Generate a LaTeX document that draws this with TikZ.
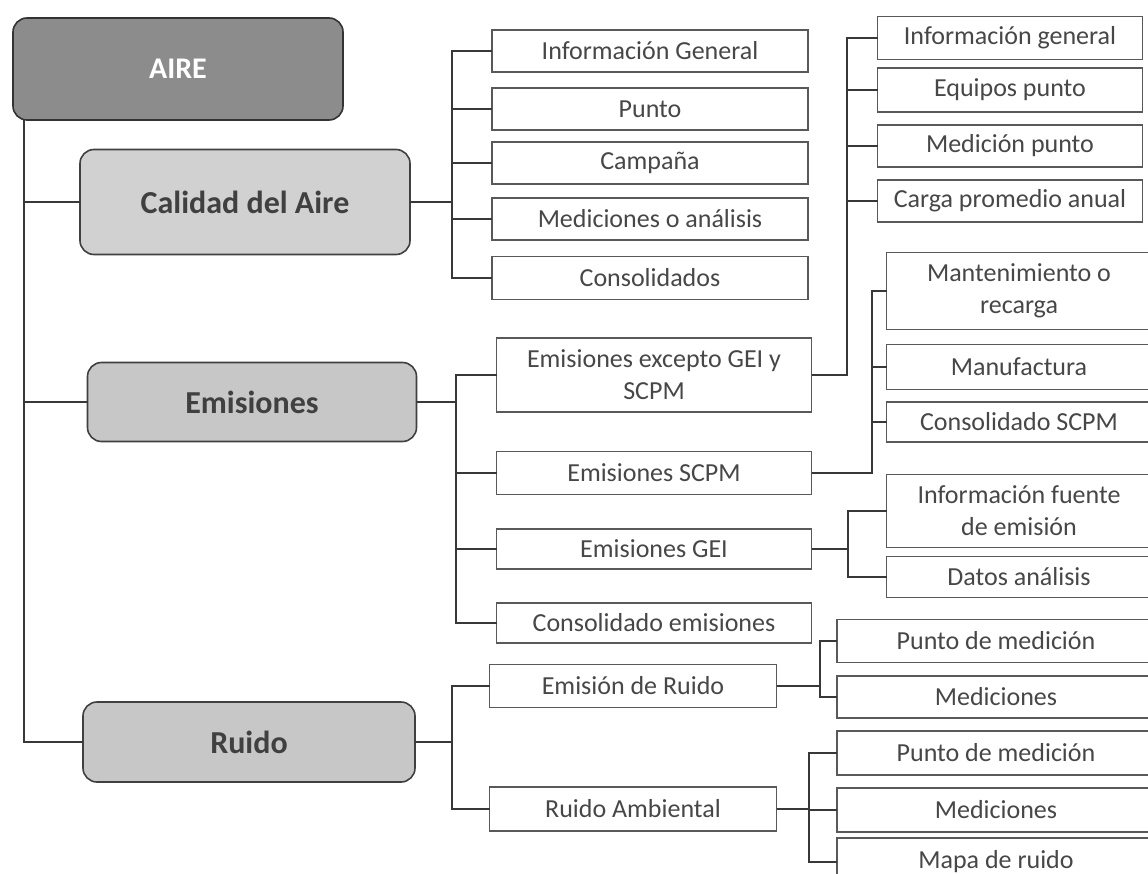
\documentclass[tikz,border=0pt]{standalone}
\usepackage{fontspec}
\setmainfont{Carlito}
\usepackage{tikz}
\usetikzlibrary{calc}

\begin{document}
\begin{tikzpicture}[x=1pt,y=-1pt]
\tikzstyle{rootbox}=[draw=black!80,line width=1.6pt,rounded corners=14pt,inner sep=0pt,outer sep=0pt,text=white,font=\bfseries\fontsize{30}{34}\selectfont]
\tikzstyle{groupbox}=[draw=black!75,line width=1.6pt,rounded corners=14pt,inner sep=0pt,outer sep=0pt,text=black!75,font=\bfseries\fontsize{32}{36}\selectfont]
\tikzstyle{leaf}=[draw=black!65,line width=1.4pt,inner sep=0pt,outer sep=0pt,text=black!72,align=center,font=\fontsize{26}{32}\selectfont]
\tikzstyle{link}=[line width=2.4pt,draw=black!78]

\clip (0,0) rectangle (1148,874);
\fill [white] (0,0) rectangle (1148,874);

% BRANCH POSITIONS
\coordinate (xroot) at (24,0);
\coordinate (xcal) at (452,0);
\coordinate (xemi) at (456,0);
\coordinate (xrui) at (452,0);
\coordinate (xexc) at (847,0);
\coordinate (xscpm) at (872,0);
\coordinate (xgei) at (848,0);
\coordinate (xer) at (820,0);
\coordinate (xra) at (809,0);

% ROOT
\node (aire) [rootbox,fill=black!45,minimum width=330pt,minimum height=102pt] at (178,69) {AIRE};

% MAIN GROUPS
\node (cal) [groupbox,fill=black!18,minimum width=330pt,minimum height=105pt] at (245,202) {Calidad del Aire};
\node (emi) [groupbox,fill=black!22,minimum width=329pt,minimum height=79pt] at (252,402) {Emisiones};
\node (rui) [groupbox,fill=black!22,minimum width=332pt,minimum height=80pt] at (249,742) {Ruido};

% CALIDAD DEL AIRE
\node (ig) [leaf,minimum width=316pt,minimum height=42pt] at (650,51) {Información General};
\node (pu) [leaf,minimum width=316pt,minimum height=42pt] at (650,109) {Punto};
\node (cam) [leaf,minimum width=316pt,minimum height=42pt] at (650,163) {Campaña};
\node (med) [leaf,minimum width=316pt,minimum height=42pt] at (650,219) {Mediciones o análisis};
\node (con) [leaf,minimum width=316pt,minimum height=43pt] at (650,278) {Consolidados};

% EMISIONES
\node (exc) [leaf,minimum width=315pt,minimum height=74pt] at (654,375) {Emisiones excepto GEI y\\SCPM};
\node (scpm) [leaf,minimum width=315pt,minimum height=43pt] at (654,473) {Emisiones SCPM};
\node (gei) [leaf,minimum width=315pt,minimum height=40pt] at (654,549) {Emisiones GEI};
\node (cem) [leaf,minimum width=315pt,minimum height=40pt] at (654,623) {Consolidado emisiones};

\node (ig2) [leaf,minimum width=265pt,minimum height=43pt] at (1010,38) {Información general};
\node (eq) [leaf,minimum width=265pt,minimum height=44pt] at (1010,90) {Equipos punto};
\node (mp) [leaf,minimum width=265pt,minimum height=42pt] at (1010,146) {Medición punto};
\node (cpa) [leaf,minimum width=265pt,minimum height=42pt] at (1010,201) {Carga promedio anual};

\node (man) [leaf,minimum width=265pt,minimum height=77pt] at (1019,291) {Mantenimiento o\\recarga};
\node (manu) [leaf,minimum width=265pt,minimum height=45pt] at (1019,367) {Manufactura};
\node (cs) [leaf,minimum width=265pt,minimum height=40pt] at (1019,422) {Consolidado SCPM};

\node (iff) [leaf,minimum width=265pt,minimum height=73pt] at (1019,511) {Información fuente\\de emisión};
\node (da) [leaf,minimum width=265pt,minimum height=41pt] at (1019,577) {Datos análisis};

% RUIDO
\node (er) [leaf,minimum width=287pt,minimum height=43pt] at (633,686) {Emisión de Ruido};
\node (ra) [leaf,minimum width=287pt,minimum height=44pt] at (633,809) {Ruido Ambiental};

\node (pm1) [leaf,minimum width=318pt,minimum height=43pt] at (996,641) {Punto de medición};
\node (me1) [leaf,minimum width=318pt,minimum height=42pt] at (996,697) {Mediciones};
\node (pm2) [leaf,minimum width=318pt,minimum height=44pt] at (996,753) {Punto de medición};
\node (me2) [leaf,minimum width=318pt,minimum height=44pt] at (996,810) {Mediciones};
\node (mr) [leaf,minimum width=318pt,minimum height=48pt] at (996,862) {Mapa de ruido};

% CONNECTORS
\foreach \c in {cal,emi,rui} \draw [link] (aire.south -| xroot) |- (\c.west);
\foreach \c in {ig,pu,cam,med,con} \draw [link] (cal.east) -- (cal.east -| xcal) |- (\c.west);
\foreach \c in {exc,scpm,gei,cem} \draw [link] (emi.east) -- (emi.east -| xemi) |- (\c.west);
\foreach \c in {ig2,eq,mp,cpa} \draw [link] (exc.east) -- (exc.east -| xexc) |- (\c.west);
\foreach \c in {man,manu,cs} \draw [link] (scpm.east) -- (scpm.east -| xscpm) |- (\c.west);
\foreach \c in {iff,da} \draw [link] (gei.east) -- (gei.east -| xgei) |- (\c.west);
\foreach \c in {er,ra} \draw [link] (rui.east) -- (rui.east -| xrui) |- (\c.west);
\foreach \c in {pm1,me1} \draw [link] (er.east) -- (er.east -| xer) |- (\c.west);
\foreach \c in {pm2,me2,mr} \draw [link] (ra.east) -- (ra.east -| xra) |- (\c.west);

\end{tikzpicture}
\end{document}
